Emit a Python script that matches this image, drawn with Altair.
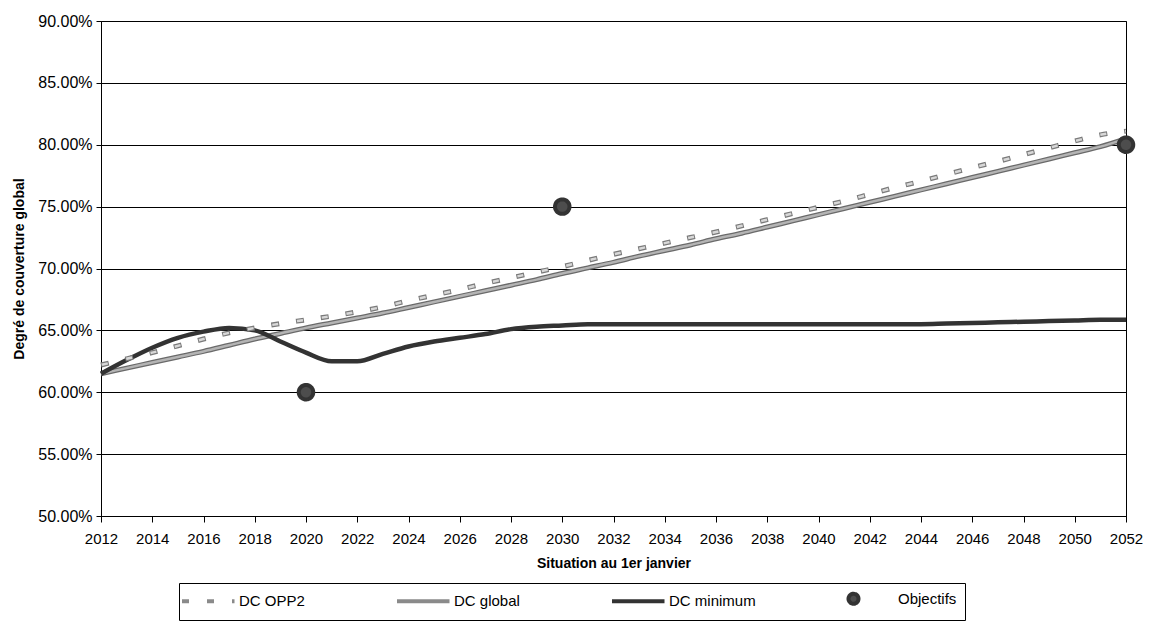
import altair as alt
import pandas as pd

years = list(range(2012, 2053))

dc_opp2 = [62.2, 62.7, 63.2, 63.75, 64.3, 64.8, 65.2, 65.55, 65.85, 66.15,
           66.5, 66.9, 67.4, 67.85, 68.3, 68.8, 69.25, 69.7, 70.15, 70.65,
           71.15, 71.6, 72.05, 72.5, 72.95, 73.45, 73.95, 74.45, 74.95, 75.45,
           76.0, 76.55, 77.05, 77.6, 78.15, 78.65, 79.2, 79.75, 80.3, 80.8, 81.1]

dc_global = [61.5, 61.95, 62.4, 62.85, 63.3, 63.8, 64.3, 64.75, 65.2, 65.6,
             66.0, 66.4, 66.85, 67.3, 67.75, 68.2, 68.65, 69.1, 69.6, 70.05,
             70.5, 71.0, 71.45, 71.9, 72.4, 72.85, 73.35, 73.85, 74.35, 74.85,
             75.35, 75.85, 76.35, 76.85, 77.35, 77.85, 78.35, 78.85, 79.35, 79.85, 80.5]

dc_minimum = [61.5, 62.6, 63.6, 64.4, 64.9, 65.2, 65.0, 64.1, 63.2, 62.5,
              62.5, 63.1, 63.7, 64.1, 64.4, 64.7, 65.1, 65.3, 65.4, 65.5,
              65.5, 65.5, 65.5, 65.5, 65.5, 65.5, 65.5, 65.5, 65.5, 65.5,
              65.5, 65.5, 65.5, 65.55, 65.6, 65.65, 65.7, 65.75, 65.8, 65.85, 65.85]

obj_years = [2020, 2030, 2052]
obj_values = [60.0, 75.0, 80.0]

series_names = ["DC OPP2", "DC global", "DC minimum", "Objectifs"]
y_ticks = [0.50, 0.55, 0.60, 0.65, 0.70, 0.75, 0.80, 0.85, 0.90]

FONT = "Liberation Sans"

rows = []
for name, vals in [("DC OPP2", dc_opp2), ("DC global", dc_global), ("DC minimum", dc_minimum)]:
    for yr, v in zip(years, vals):
        rows.append({"year": yr, "value": v / 100.0, "series": name})
lines_df = pd.DataFrame(rows)
obj_df = pd.DataFrame({"year": obj_years, "value": [v / 100.0 for v in obj_values],
                       "series": ["Objectifs"] * len(obj_years)})

x_enc = alt.X("year:Q",
              scale=alt.Scale(domain=[2012, 2052], nice=False, zero=False),
              axis=alt.Axis(values=years, labelExpr="datum.value % 2 == 0 ? datum.value : ''",
                            grid=False, tickSize=6, tickColor="black", domainColor="black",
                            labelFontSize=15, labelFont=FONT, labelColor="black",
                            labelPadding=9, labelFlush=False, labelOverlap=False,
                            title="Situation au 1er janvier", titleFont=FONT, titleFontSize=14,
                            titleFontWeight="bold", titleColor="black", titlePadding=10))
y_enc = alt.Y("value:Q",
              scale=alt.Scale(domain=[0.5, 0.9], nice=False, zero=False),
              axis=alt.Axis(values=y_ticks, format=".2%", grid=True, gridColor="black",
                            gridWidth=1, tickSize=5, tickColor="black", domainColor="black",
                            labelFontSize=16, labelFont=FONT, labelColor="black", labelPadding=4,
                            title="Degré de couverture global", titleFont=FONT, titleFontSize=14,
                            titleFontWeight="bold", titleColor="black", titlePadding=11))

base = alt.Chart(lines_df).encode(x=x_enc, y=y_enc)

glob_under = base.transform_filter(alt.datum.series == "DC global").mark_line(
    color="#6a6a6a", strokeWidth=5, interpolate="monotone")
glob_top = base.transform_filter(alt.datum.series == "DC global").mark_line(
    color="#b4b4b4", strokeWidth=2.5, interpolate="monotone")
mini_line = base.transform_filter(alt.datum.series == "DC minimum").mark_line(
    color="#333333", strokeWidth=4.5, interpolate="monotone")
opp_under = base.transform_filter(alt.datum.series == "DC OPP2").mark_line(
    color="#7a7a7a", strokeWidth=5, strokeDash=[8, 17], interpolate="monotone")
opp_top = base.transform_filter(alt.datum.series == "DC OPP2").mark_line(
    color="#d8d8d8", strokeWidth=2.5, strokeDash=[6, 19], strokeDashOffset=-1,
    interpolate="monotone")

leg = alt.Legend(title=None, orient="none", legendX=78, legendY=562, direction="horizontal",
                 columns=4, columnPadding=84, labelFont=FONT, labelFontSize=15,
                 labelColor="black", labelOffset=37, symbolSize=100,
                 strokeColor="black", fillColor="white", padding=8, offset=0)

dom = series_names
points = alt.Chart(obj_df).mark_point(filled=True, size=210, opacity=1).encode(
    x=alt.X("year:Q"),
    y=alt.Y("value:Q"),
    fill=alt.Fill("series:N", scale=alt.Scale(domain=dom, range=["#d0d0d0", "#9a9a9a", "#333333", "#4d4d4d"]), legend=leg),
    stroke=alt.Stroke("series:N", scale=alt.Scale(domain=dom, range=["#8a8a8a", "#8a8a8a", "#333333", "#333333"]), legend=leg),
    shape=alt.Shape("series:N", scale=alt.Scale(domain=dom, range=["M-2.5,0H8", "M-2.5,0H8", "M-2.5,0H8", "circle"]), legend=leg),
    strokeDash=alt.StrokeDash("series:N", scale=alt.Scale(domain=dom, range=[[7, 18], [1, 0], [1, 0], [1, 0]]), legend=leg),
    strokeWidth=alt.StrokeWidth("series:N", scale=alt.Scale(domain=dom, range=[4, 4, 4, 1]), legend=leg),
)

chart = alt.layer(glob_under, glob_top, mini_line, opp_under, opp_top, points).properties(
    width=1025, height=495,
    autosize=alt.AutoSizeParams(type="none"),
    padding={"left": 93, "top": 13, "right": 19, "bottom": 107},
    background="white",
).configure_view(stroke="black", strokeWidth=1).configure_axis(domainWidth=1, tickWidth=1)

chart.save("out.html", embed_options={"renderer": "svg", "actions": False})
